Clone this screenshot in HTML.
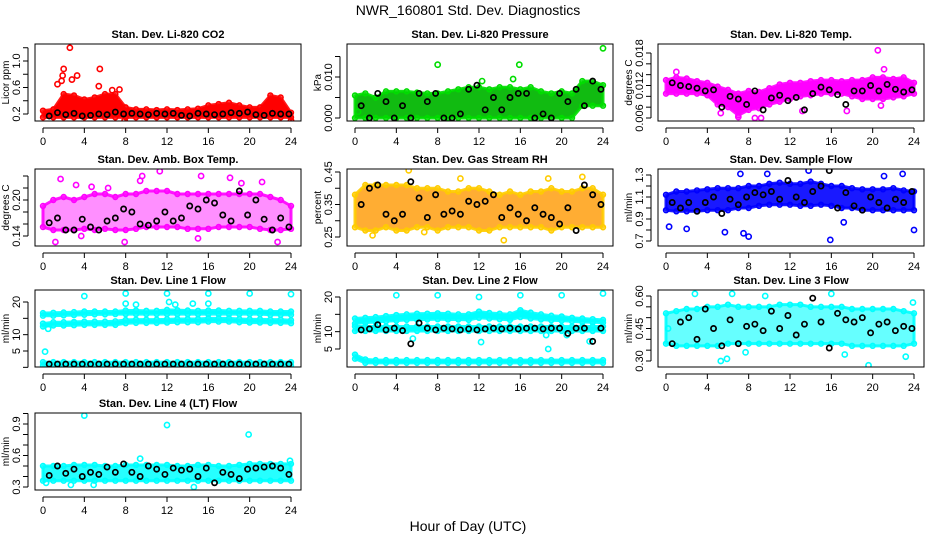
<!DOCTYPE html>
<html><head><meta charset="utf-8"><style>
body{margin:0;background:#fff;}
svg{display:block;font-family:"Liberation Sans",sans-serif;}
</style></head><body>
<svg id="chart" width="936" height="540" viewBox="0 0 936 540" xmlns="http://www.w3.org/2000/svg">
<rect width="936" height="540" fill="#fff"/>
<text x="468" y="15" text-anchor="middle" font-size="14">NWR_160801  Std. Dev. Diagnostics</text>
<text x="468" y="531" text-anchor="middle" font-size="14">Hour of Day (UTC)</text>
</svg>
<script>
// shared data
const hours = [0,1,2,3,4,5,6,7,8,9,10,11,12,13,14,15,16,17,18,19,20,21,22,23,24];
const blackX = [0.6,1.4,2.2,3.0,3.8,4.6,5.4,6.2,7.0,7.8,8.6,9.4,10.2,11.0,11.8,12.6,13.4,14.2,15.0,15.8,16.6,17.4,18.2,19.0,19.8,20.6,21.4,22.2,23.0,23.8];
const xTicks = [0,4,8,12,16,20,24];

// Panel 1: CO2
const co2Lo = [0.15,0.15,0.15,0.15,0.15,0.15,0.15,0.15,0.15,0.15,0.15,0.15,0.15,0.15,0.15,0.15,0.15,0.15,0.15,0.15,0.15,0.15,0.15,0.15,0.15];
const co2Hi = [0.25,0.27,0.5,0.48,0.42,0.45,0.5,0.5,0.3,0.27,0.27,0.26,0.27,0.26,0.27,0.28,0.33,0.35,0.37,0.33,0.3,0.3,0.48,0.45,0.22];
const co2OutX = [2.6,2.0,1.9,1.8,3.3,2.8,5.5,1.4,5.4,7.4,6.7,7.9,24];
const co2OutY = [1.2,0.88,0.78,0.7,0.78,0.72,0.88,0.65,0.62,0.57,0.56,0.1,0.1];
const co2Black = [0.17,0.22,0.19,0.21,0.17,0.18,0.2,0.19,0.23,0.2,0.21,0.2,0.19,0.21,0.2,0.21,0.18,0.17,0.21,0.2,0.19,0.2,0.22,0.21,0.23,0.19,0.18,0.21,0.2,0.2];
const co2Ticks = [0.2,0.4,0.6,0.8,1.0,1.2];
const co2Labels = ["0.2","","0.6","","1.0",""];

// Panel 2: Pressure
const prLo = [0,0,0,0,0,0,0,0,0,0,0,0,0,0,0,0,0,0,0,0,0,0,0.003,0.003,0.003];
const prHi = [0.0055,0.006,0.005,0.0065,0.0065,0.0065,0.0062,0.006,0.006,0.0065,0.007,0.0075,0.0075,0.007,0.0075,0.0075,0.007,0.0075,0.0065,0.006,0.0065,0.006,0.009,0.009,0.008];
const prOutX = [8.0,15.9,24.0,15.3,12.3,0.3];
const prOutY = [0.013,0.013,0.017,0.0095,0.009,0.0015];
const prBlack = [0.003,0.0,0.006,0.004,0.0,0.003,0.0,0.006,0.004,0.006,0.0,0.0,0.001,0.007,0.008,0.002,0.005,0.002,0.005,0.006,0.006,0.0,0.001,0.0,0.006,0.004,0.007,0.003,0.009,0.007];
const prTicks = [0,0.005,0.010,0.015];
const prLabels = ["0.000","","0.010",""];

// Panel 3: Li-820 Temp
const ltLo = [0.0105,0.0105,0.0105,0.0105,0.0102,0.0085,0.008,0.0065,0.0075,0.0078,0.0085,0.009,0.0095,0.01,0.0102,0.0105,0.0105,0.0105,0.01,0.0095,0.0095,0.0095,0.0098,0.01,0.0105];
const ltHi = [0.013,0.0135,0.0133,0.0128,0.0125,0.0118,0.0112,0.0105,0.011,0.0108,0.0115,0.0122,0.0125,0.0125,0.0128,0.013,0.013,0.0128,0.013,0.013,0.0135,0.0135,0.0132,0.0135,0.0125];
const ltOutX = [20.5,8.6,9.2,7.0,20.8,21.1,17.5,13.2,1.0,5.3];
const ltOutY = [0.0185,0.006,0.006,0.0062,0.0083,0.015,0.0073,0.0073,0.0145,0.0069];
const ltBlack = [0.0125,0.012,0.0118,0.0115,0.011,0.0112,0.008,0.01,0.0095,0.0085,0.011,0.0075,0.0097,0.0102,0.0092,0.0098,0.0075,0.0105,0.0117,0.0112,0.0103,0.0085,0.011,0.011,0.012,0.011,0.0122,0.0113,0.0108,0.0112];
const ltTicks = [0.006,0.008,0.010,0.012,0.014,0.016,0.018];
const ltLabels = ["0.006","","","0.012","","","0.018"];

// Panel 4: Amb box temp
const abLo = [0.155,0.15,0.15,0.15,0.152,0.15,0.152,0.15,0.15,0.152,0.155,0.155,0.155,0.155,0.152,0.152,0.152,0.155,0.155,0.155,0.155,0.152,0.15,0.15,0.152];
const abHi = [0.19,0.2,0.205,0.2,0.205,0.21,0.21,0.205,0.21,0.21,0.215,0.215,0.215,0.21,0.21,0.21,0.21,0.21,0.21,0.21,0.21,0.21,0.205,0.2,0.19];
const abOutX = [1.7,1.2,3.2,6.3,9.6,11.3,9.4,15.3,18.1,21.2,22.7,7.9,4.7,19.2,15.0,3.7];
const abOutY = [0.235,0.13,0.225,0.22,0.24,0.248,0.232,0.24,0.237,0.23,0.13,0.13,0.222,0.228,0.136,0.14];
const abBlack = [0.162,0.17,0.15,0.15,0.168,0.155,0.15,0.165,0.17,0.185,0.18,0.16,0.158,0.165,0.18,0.165,0.17,0.19,0.185,0.2,0.195,0.175,0.165,0.215,0.175,0.2,0.168,0.15,0.17,0.155];
const abTicks = [0.14,0.16,0.18,0.20,0.22,0.24];
const abLabels = ["0.14","","","0.20","",""];

// Panel 5: Gas stream RH
const rhLo = [0.28,0.27,0.27,0.28,0.27,0.27,0.28,0.28,0.27,0.28,0.28,0.28,0.27,0.27,0.28,0.28,0.28,0.28,0.28,0.27,0.28,0.28,0.28,0.28,0.28];
const rhHi = [0.38,0.41,0.41,0.41,0.41,0.41,0.4,0.4,0.4,0.39,0.39,0.4,0.4,0.39,0.38,0.39,0.38,0.39,0.39,0.4,0.39,0.39,0.4,0.4,0.38];
const rhOutX = [5.2,14.4,1.7,10.2,18.7,22.0,6.7];
const rhOutY = [0.455,0.24,0.255,0.43,0.43,0.435,0.265];
const rhBlack = [0.35,0.40,0.41,0.32,0.3,0.32,0.42,0.37,0.31,0.38,0.32,0.33,0.32,0.36,0.35,0.36,0.38,0.31,0.34,0.32,0.3,0.34,0.32,0.31,0.29,0.34,0.27,0.41,0.38,0.35];
const rhTicks = [0.25,0.30,0.35,0.40,0.45];
const rhLabels = ["0.25","","0.35","","0.45"];

// Panel 6: Sample flow
const sfLo = [0.98,0.97,0.97,0.97,0.98,0.98,0.98,1.0,1.0,1.02,1.03,1.03,1.03,1.02,1.02,1.03,1.02,1.0,1.0,0.98,0.98,0.98,0.98,0.98,0.98];
const sfHi = [1.12,1.15,1.15,1.16,1.17,1.18,1.18,1.18,1.2,1.2,1.22,1.23,1.22,1.22,1.24,1.22,1.2,1.2,1.18,1.17,1.17,1.17,1.18,1.16,1.15];
const sfOutX = [0.3,2.0,5.7,7.5,8.0,15.9,24.0,17.2,9.8,13.8,7.2,21.1,22.9];
const sfOutY = [0.83,0.81,0.78,0.77,0.74,0.71,0.8,0.87,1.31,1.34,1.31,1.29,1.31];
const sfBlack = [1.05,1.0,1.05,0.97,1.05,1.1,0.95,1.08,1.03,1.1,1.14,1.12,1.15,1.08,1.25,1.1,1.05,1.15,1.2,1.34,1.0,1.14,1.02,0.98,1.1,1.05,1.0,1.08,1.05,1.15];
const sfTicks = [0.7,0.8,0.9,1.0,1.1,1.2,1.3];
const sfLabels = ["0.7","","0.9","","1.1","","1.3"];

// Panel 7: Line 1 flow
const l1aLo = [15.8,15.8,15.9,16.0,16.1,16.2,16.2,16.3,16.3,16.3,16.3,16.3,16.3,16.3,16.3,16.3,16.3,16.3,16.3,16.3,16.3,16.3,16.1,16.1,16.1];
const l1aHi = [16.6,16.7,16.8,16.9,17.1,17.1,17.1,17.1,17.4,17.4,17.3,17.3,17.6,17.5,17.4,17.3,17.4,17.4,17.3,17.3,17.3,17.3,17.1,17.1,17.1];
const l1bLo = [12.5,12.8,12.8,12.9,13.0,13.0,13.0,13.0,13.5,13.6,13.6,13.6,13.7,13.8,13.8,13.8,14.0,14.0,14.0,13.8,13.7,13.7,13.6,13.6,13.5];
const l1bHi = [13.4,13.8,13.8,13.9,14.0,14.0,14.0,14.1,14.5,14.6,14.6,14.6,14.7,14.8,14.8,14.8,15.0,15.0,15.0,14.8,14.7,14.7,14.6,14.6,14.4];
const l1cLo = [0.6,0.6,0.6,0.6,0.6,0.6,0.6,0.6,0.6,0.6,0.6,0.6,0.6,0.6,0.6,0.6,0.6,0.6,0.6,0.6,0.6,0.6,0.6,0.6,0.6];
const l1cHi = [1.6,1.6,1.6,1.6,1.6,1.6,1.6,1.6,1.6,1.6,1.6,1.6,1.6,1.6,1.6,1.6,1.6,1.6,1.6,1.6,1.6,1.6,1.6,1.6,1.6];
const l1OutX = [0.2,0.5,4.0,8.0,12.0,16.0,20.0,24.0,8.0,12.2,14.5,16.0,9.0,12.8];
const l1OutY = [4.8,11.8,21.8,22.6,22.6,22.6,22.6,22.4,19.5,20.0,19.5,19.5,19.2,19.2];
const l1Black = [1,1,1,1,1,1,1,1,1,1,1,1,1,1,1,1,1,1,1,1,1,1,1,1,1,1,1,1,1,1];
const l1Ticks = [0,5,10,15,20];
const l1Labels = ["","5","10","","20"];

// Panel 8: Line 2 flow
const l2aLo = [12.3,12.6,12.8,13.0,13.2,13.4,13.5,13.5,13.6,13.5,13.5,13.4,14.0,13.8,13.6,13.4,14.2,13.8,13.5,13.3,13.2,13.0,12.8,12.7,12.6];
const l2aHi = [13.8,14.0,14.2,14.5,14.8,15.0,15.2,15.2,15.3,15.2,15.0,15.0,15.8,15.4,15.2,15.0,16.2,15.5,15.0,14.6,14.4,14.0,13.8,13.6,13.4];
const l2bLo = [10.2,10.2,10.2,10.2,10.2,10.2,10.2,10.2,10.2,10.2,10.2,10.2,10.2,10.2,10.2,10.2,10.2,10.2,10.2,10.2,10.2,10.2,10.2,10.2,10.2];
const l2bHi = [11.5,11.5,11.5,11.5,11.5,11.5,11.5,11.5,11.5,11.5,11.5,11.5,11.5,11.5,11.5,11.5,11.5,11.5,11.5,11.5,11.5,11.5,11.5,11.5,11.5];
const l2cLo = [2.2,1.0,1.0,1.0,1.0,1.0,1.0,1.0,1.0,1.0,1.0,1.0,1.0,1.0,1.0,1.0,1.0,1.0,1.0,1.0,1.0,1.0,1.0,1.0,1.0];
const l2cHi = [3.4,2.0,1.8,1.8,1.8,1.8,1.8,1.8,1.8,1.8,1.8,1.8,1.8,1.8,1.8,1.8,1.8,1.8,1.8,1.8,1.8,1.8,1.8,1.8,1.8];
const l2OutX = [4.0,8.0,12.0,16.0,20.0,24.0,12.2,5.6,18.7,22.7,20.5,18.5];
const l2OutY = [20.5,20.5,20.0,20.5,20.5,21.0,7.0,8.0,5.0,7.2,9.0,9.0];
const l2Black = [10.5,10.8,12,10.5,11,10.3,6.5,12.5,11,10.5,11,10.8,10.5,10.8,10.5,10.8,11,10.8,11,10.8,11,11,10.8,11,11,9.5,11,11,7.2,11];
const l2Ticks = [5,10,15,20];
const l2Labels = ["5","10","","20"];

// Panel 9: Line 3 flow
const l3Lo = [0.38,0.37,0.37,0.37,0.37,0.37,0.38,0.38,0.38,0.38,0.38,0.38,0.38,0.38,0.38,0.38,0.38,0.38,0.37,0.37,0.37,0.37,0.37,0.37,0.38];
const l3Hi = [0.52,0.53,0.54,0.54,0.55,0.55,0.56,0.55,0.55,0.55,0.55,0.56,0.56,0.56,0.55,0.55,0.55,0.55,0.54,0.54,0.54,0.54,0.54,0.53,0.52];
const l3OutX = [2.8,6.4,9.6,16.0,5.3,5.9,19.6,23.2,23.9,0.2,7.7,17.3];
const l3OutY = [0.61,0.61,0.6,0.61,0.3,0.31,0.28,0.32,0.57,0.45,0.34,0.33];
const l3Black = [0.38,0.48,0.5,0.4,0.54,0.45,0.37,0.49,0.38,0.46,0.47,0.44,0.53,0.45,0.51,0.42,0.47,0.59,0.48,0.36,0.52,0.49,0.48,0.5,0.43,0.47,0.48,0.44,0.46,0.45];
const l3Ticks = [0.30,0.35,0.40,0.45,0.50,0.55,0.60];
const l3Labels = ["0.30","","","0.45","","","0.60"];

// Panel 10: Line 4 (LT) flow
const l4Lo = [0.36,0.36,0.36,0.36,0.36,0.36,0.36,0.36,0.36,0.36,0.36,0.36,0.36,0.36,0.36,0.36,0.36,0.36,0.36,0.36,0.36,0.36,0.36,0.36,0.36];
const l4Hi = [0.5,0.5,0.5,0.51,0.51,0.51,0.5,0.5,0.51,0.51,0.51,0.51,0.51,0.5,0.5,0.51,0.51,0.5,0.5,0.51,0.52,0.52,0.52,0.52,0.52];
const l4OutX = [4.0,12.0,19.9,9.4,23.9,0.3,2.7,4.9,14.6];
const l4OutY = [0.98,0.89,0.8,0.57,0.55,0.34,0.32,0.32,0.3];
const l4Black = [0.41,0.5,0.43,0.47,0.4,0.44,0.42,0.49,0.44,0.52,0.44,0.4,0.5,0.47,0.42,0.48,0.46,0.47,0.4,0.48,0.34,0.44,0.42,0.38,0.47,0.48,0.49,0.5,0.48,0.42];
const l4Ticks = [0.3,0.4,0.5,0.6,0.7,0.8,0.9,1.0];
const l4Labels = ["0.3","","","0.6","","","0.9",""];

const NS = "http://www.w3.org/2000/svg";
const svg = document.getElementById('chart');
function mk(tag, attrs, parent) {
  const e = document.createElementNS(NS, tag);
  for (const k in attrs) e.setAttribute(k, attrs[k]);
  (parent || svg).appendChild(e);
  return e;
}

const colLeft = [35, 347, 658];
const rowTop = [44, 169, 290, 413];
const boxW = 266, boxH = 77;

function panel(p) {
  const L = colLeft[p.col], T = rowTop[p.row], B = T + boxH, R = L + boxW;
  const g = mk('g', {});
  
  
  const xs = h => L + 8 + h * (248 / 24);
  const ys = v => T + p.ref[1] + (v - p.ref[0]) * (p.ref[3] - p.ref[1]) / (p.ref[2] - p.ref[0]);
  const plot = mk('g', {}, g);
  const cid = 'clip-' + p.name;
  const cp = mk('clipPath', { id: cid }, g);
  mk('rect', { x: L, y: T, width: boxW, height: boxH }, cp);
  plot.setAttribute('clip-path', 'url(#' + cid + ')');
  
  
  p.bands.forEach((b, bi) => {
    let d = '';
    hours.forEach((h, i) => { d += (i ? 'L' : 'M') + xs(h) + ' ' + ys(b[1][i]) + ' '; });
    for (let i = hours.length - 1; i >= 0; i--) d += 'L' + xs(hours[i]) + ' ' + ys(b[0][i]) + ' ';
    d += 'Z';
    const band = mk('path', { d: d, fill: p.fill, 'fill-opacity': p.op, stroke: p.color, 'stroke-width': 3, 'stroke-linejoin': 'round', 'stroke-opacity': 0.9 }, plot);
    
    
    hours.forEach((h, i) => {
      [b[0][i], b[1][i]].forEach(v => {
        const c = mk('circle', { cx: xs(h), cy: ys(v), r: 2.4, fill: 'none', stroke: p.color, 'stroke-width': 1.6 }, plot);
        
        
      });
    });
  });
  p.outX.forEach((x, i) => {
    const c = mk('circle', { cx: xs(x), cy: ys(p.outY[i]), r: 2.6, fill: 'none', stroke: p.color, 'stroke-width': 1.6 }, plot);
    
    
  });
  blackX.forEach((x, i) => {
    const c = mk('circle', { cx: xs(x), cy: ys(p.black[i]), r: 2.6, fill: 'none', stroke: '#000', 'stroke-width': 1.7 }, plot);
    
    
  });
  const box = mk('rect', { x: L, y: T, width: boxW, height: boxH, fill: 'none', stroke: '#000', 'stroke-width': 1 }, g);
  
  
  const ax = mk('line', { x1: xs(0), x2: xs(24), y1: B + 7, y2: B + 7, stroke: '#000' }, g);
  
  
  xTicks.forEach(t => {
    mk('line', { x1: xs(t), x2: xs(t), y1: B + 7, y2: B + 12, stroke: '#000' }, g);
    const tx = mk('text', { x: xs(t), y: B + 24, 'text-anchor': 'middle', 'font-size': 11 }, g);
    tx.textContent = t;
    
    
  });
  const yTop = ys(p.ticks[p.ticks.length - 1]), yBot = ys(p.ticks[0]);
  const ay = mk('line', { x1: L - 7, x2: L - 7, y1: yTop, y2: yBot, stroke: '#000' }, g);
  
  
  p.ticks.forEach((t, i) => {
    const y = ys(t);
    mk('line', { x1: L - 12, x2: L - 7, y1: y, y2: y, stroke: '#000' }, g);
    if (p.labels[i]) {
      const tx = mk('text', { x: 0, y: 0, transform: 'translate(' + (L - 15) + ',' + y + ') rotate(-90)', 'text-anchor': 'middle', 'font-size': 11 }, g);
      tx.textContent = p.labels[i];
      
      
    }
  });
  const yl = mk('text', { x: 0, y: 0, transform: 'translate(' + (L - 26) + ',' + (T + boxH / 2) + ') rotate(-90)', 'text-anchor': 'middle', 'font-size': 10 }, g);
  yl.textContent = p.ylab;
  
  
  const ti = mk('text', { x: (L + R) / 2, y: T - 6, 'text-anchor': 'middle', 'font-size': 11, 'font-weight': 'bold' }, g);
  ti.textContent = p.title;
  
  
}

const cyan = '#00ffff';
panel({ name: 'co2', row: 0, col: 0, title: 'Stan. Dev. Li-820 CO2', ylab: 'Licor ppm', color: '#ff0000', fill: '#ff0000', op: 1, ref: [0.2, 70, 1.0, 17], bands: [[co2Lo, co2Hi]], outX: co2OutX, outY: co2OutY, black: co2Black, ticks: co2Ticks, labels: co2Labels });
panel({ name: 'pressure', row: 0, col: 1, title: 'Stan. Dev. Li-820 Pressure', ylab: 'kPa', color: '#00dd00', fill: '#11bb11', op: 1, ref: [0, 74, 0.010, 33], bands: [[prLo, prHi]], outX: prOutX, outY: prOutY, black: prBlack, ticks: prTicks, labels: prLabels });
panel({ name: 'li820-temp', row: 0, col: 2, title: 'Stan. Dev. Li-820 Temp.', ylab: 'degrees C', color: '#ff00ff', fill: '#ff00ff', op: 1, ref: [0.006, 74, 0.018, 9], bands: [[ltLo, ltHi]], outX: ltOutX, outY: ltOutY, black: ltBlack, ticks: ltTicks, labels: ltLabels });
panel({ name: 'amb-box-temp', row: 1, col: 0, title: 'Stan. Dev. Amb. Box Temp.', ylab: 'degrees C', color: '#ff00ff', fill: '#ff33ff', op: 0.55, ref: [0.14, 67, 0.20, 31], bands: [[abLo, abHi]], outX: abOutX, outY: abOutY, black: abBlack, ticks: abTicks, labels: abLabels });
panel({ name: 'gas-rh', row: 1, col: 1, title: 'Stan. Dev. Gas Stream RH', ylab: 'percent', color: '#ffcc00', fill: '#ff9900', op: 0.8, ref: [0.45, 3, 0.25, 68], bands: [[rhLo, rhHi]], outX: rhOutX, outY: rhOutY, black: rhBlack, ticks: rhTicks, labels: rhLabels });
panel({ name: 'sample-flow', row: 1, col: 2, title: 'Stan. Dev. Sample Flow', ylab: 'ml/min', color: '#0000ff', fill: '#0000ff', op: 0.9, ref: [0.7, 72, 1.3, 6], bands: [[sfLo, sfHi]], outX: sfOutX, outY: sfOutY, black: sfBlack, ticks: sfTicks, labels: sfLabels });
panel({ name: 'line1-flow', row: 2, col: 0, title: 'Stan. Dev. Line 1 Flow', ylab: 'ml/min', color: cyan, fill: cyan, op: 1, ref: [5, 61, 20, 12], bands: [[l1aLo, l1aHi], [l1bLo, l1bHi], [l1cLo, l1cHi]], outX: l1OutX, outY: l1OutY, black: l1Black, ticks: l1Ticks, labels: l1Labels });
panel({ name: 'line2-flow', row: 2, col: 1, title: 'Stan. Dev. Line 2 Flow', ylab: 'ml/min', color: cyan, fill: cyan, op: 1, ref: [5, 59, 20, 7], bands: [[l2aLo, l2aHi], [l2bLo, l2bHi], [l2cLo, l2cHi]], outX: l2OutX, outY: l2OutY, black: l2Black, ticks: l2Ticks, labels: l2Labels });
panel({ name: 'line3-flow', row: 2, col: 2, title: 'Stan. Dev. Line 3 Flow', ylab: 'ml/min', color: cyan, fill: cyan, op: 0.6, ref: [0.60, 6, 0.30, 71], bands: [[l3Lo, l3Hi]], outX: l3OutX, outY: l3OutY, black: l3Black, ticks: l3Ticks, labels: l3Labels });
panel({ name: 'line4-flow', row: 3, col: 0, title: 'Stan. Dev. Line 4 (LT) Flow', ylab: 'ml/min', color: cyan, fill: cyan, op: 0.85, ref: [0.3, 74, 0.9, 11], bands: [[l4Lo, l4Hi]], outX: l4OutX, outY: l4OutY, black: l4Black, ticks: l4Ticks, labels: l4Labels });
</script>
</body></html>
